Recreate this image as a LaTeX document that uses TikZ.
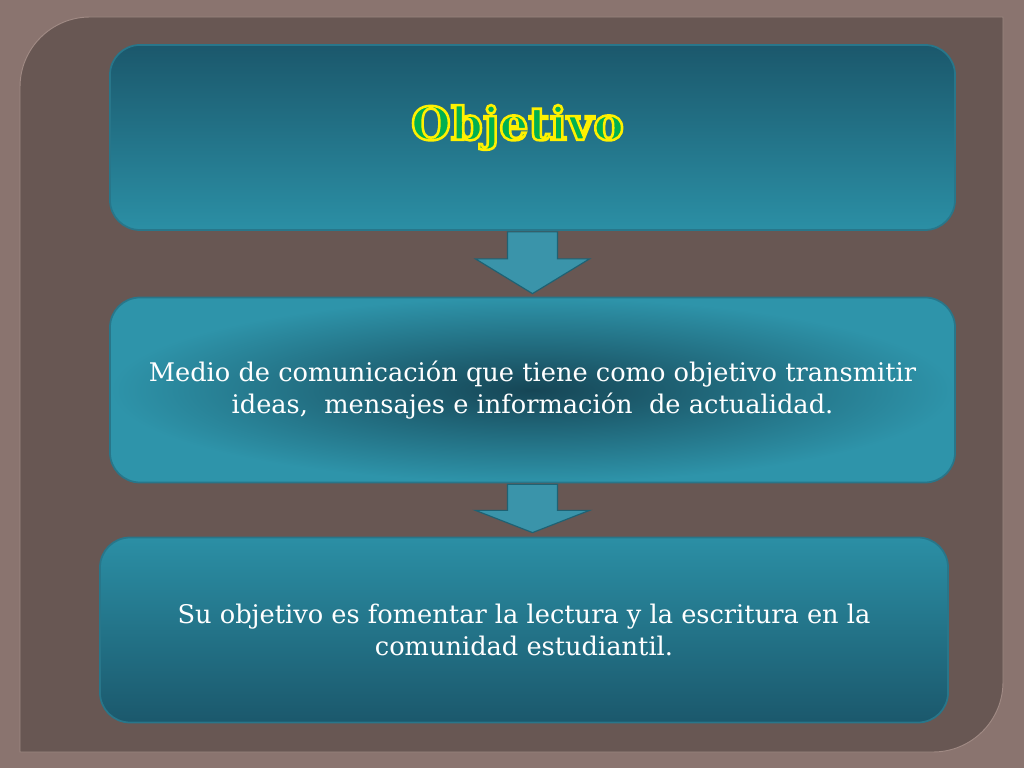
\documentclass[tikz,border=0pt]{standalone}
\usepackage{fontspec}
\setmainfont{DejaVu Serif}
\usetikzlibrary{calc}
\definecolor{framegray}{RGB}{138,116,111}
\definecolor{panelbrown}{RGB}{104,87,83}
\definecolor{paneledge}{RGB}{160,138,132}
\definecolor{boxline}{RGB}{40,118,138}
\definecolor{boxdark}{RGB}{27,88,108}
\definecolor{boxlight}{RGB}{43,143,165}
\definecolor{midcore}{RGB}{22,70,86}
\definecolor{midrim}{RGB}{46,148,170}
\definecolor{arrowfill}{RGB}{58,148,170}
\definecolor{arrowline}{RGB}{30,98,116}
\definecolor{titlegreen}{RGB}{0,176,80}
% outlined text: fill with the current colour, stroke in yellow
\newcommand\rimtext[1]{\special{pdf:literal direct q 2 Tr 2.2 w 1 0.94 0 RG}#1\special{pdf:literal direct Q}}
\begin{document}
\begin{tikzpicture}[x=0.03cm,y=-0.03cm]
\tikzstyle{box}=[draw=boxline, line width=1.5pt, rounded corners=0.9cm, minimum width=25.35cm, minimum height=5.55cm, text=white, font=\fontsize{21.9}{27.5}\selectfont, align=center]
\tikzstyle{downarrow}=[fill=arrowfill, draw=arrowline, line width=1pt]
\tikzstyle{titletext}=[font=\fontsize{39}{40}\selectfont\bfseries, inner sep=0pt, text=titlegreen]
\useasboundingbox (0,0) rectangle (1024,768);
% frame and panel
\fill [framegray] (0,0) rectangle (1024,768);
\draw [paneledge, line width=0.8pt, fill=panelbrown] (20,87) .. controls (20,48.4) and (51.4,17) .. (90,17) -- (1003,17) -- (1003,682) .. controls (1003,720.6) and (971.6,752) .. (933,752) -- (20,752) -- cycle;
% boxes
\node (top) [box, top color=boxdark, bottom color=boxlight] at (532.5,137.5) {};
\node (mid) [box, inner color=midcore, outer color=midrim] at (532.5,390) {Medio de comunicación que tiene como objetivo transmitir\\ideas,~ mensajes e información~ de actualidad.};
\node (bot) [box, minimum width=25.44cm, top color=boxlight, bottom color=boxdark] at (524,630) {Su objetivo es fomentar la lectura y la escritura en la\\comunidad estudiantil.};
% arrows
\draw [downarrow] ($(top.south)+(-25,1)$) -- ($(top.south)+(-25,28)$) -- ($(top.south)+(-57,28)$) -- ($(top.south |- mid.north)+(0,-3)$) -- ($(top.south)+(57,28)$) -- ($(top.south)+(25,28)$) -- ($(top.south)+(25,1)$) -- cycle;
\draw [downarrow] ($(mid.south)+(-25,1)$) -- ($(mid.south)+(-25,27)$) -- ($(mid.south)+(-57,27)$) -- ($(mid.south |- bot.north)+(0,-4)$) -- ($(mid.south)+(57,27)$) -- ($(mid.south)+(25,27)$) -- ($(mid.south)+(25,1)$) -- cycle;
% title
\node (title) [titletext] at ($(top.center)+(-15,-10)$) {\rimtext{Objetivo}};
\end{tikzpicture}
\end{document}
